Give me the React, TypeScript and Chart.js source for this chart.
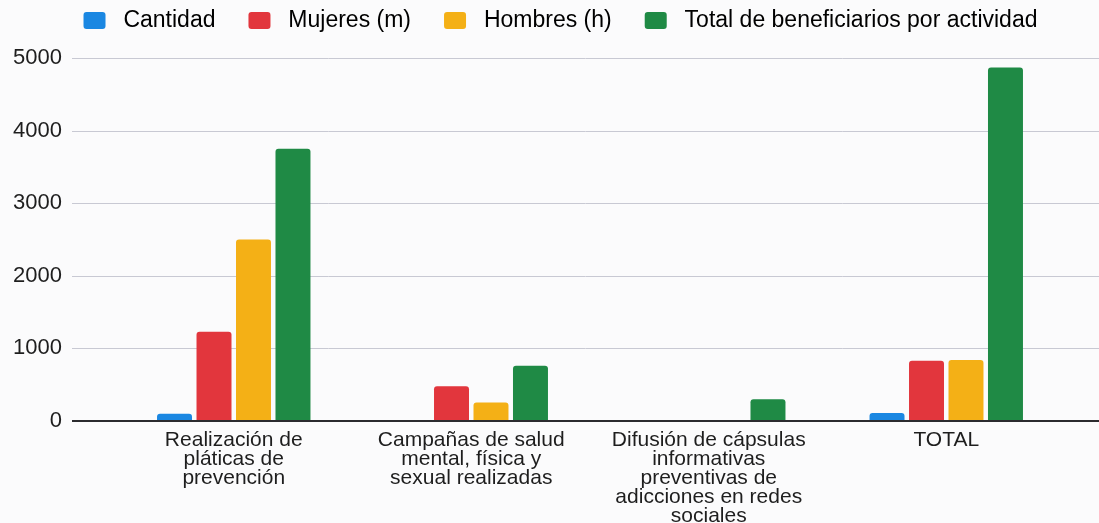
import React, { useEffect, useRef } from "react";
import { Chart, registerables } from "chart.js";

Chart.register(...registerables);

const categories: (string | string[])[] = [
  ["Realización de", "pláticas de", "prevención"],
  ["Campañas de salud", "mental, física y", "sexual realizadas"],
  ["Difusión de cápsulas", "informativas", "preventivas de", "adicciones en redes", "sociales"],
  "TOTAL",
];

const seriesNames = ["Cantidad", "Mujeres (m)", "Hombres (h)", "Total de beneficiarios por actividad"];
const cantidad = [100, 5, 5, 110];
const mujeres = [1230, 480, 0, 830];
const hombres = [2500, 255, 0, 840];
const totalBeneficiarios = [3750, 760, 300, 4870];
const colors = ["#1a87e2", "#e2363d", "#f4b016", "#1f8a45"];
const yTicks = [0, 1000, 2000, 3000, 4000, 5000];

const FONT = "'Liberation Sans', Arial, sans-serif";

const extGrid = {
  id: "extGrid",
  beforeDatasetsDraw(chart: any) {
    const y = chart.scales.y;
    const ctx = chart.ctx;
    const left = chart.chartArea.left - 43;
    ctx.save();
    ctx.strokeStyle = "#c8c9d3";
    ctx.lineWidth = 1;
    y.ticks.forEach((t: any) => {
      if (t.value === 0) return;
      const py = Math.round(y.getPixelForValue(t.value)) + 0.5;
      ctx.beginPath();
      ctx.moveTo(left, py);
      ctx.lineTo(chart.width, py);
      ctx.stroke();
    });
    ctx.restore();
  },
  afterDatasetsDraw(chart: any) {
    const y = chart.scales.y;
    const ctx = chart.ctx;
    const left = chart.chartArea.left - 43;
    const py = y.getPixelForValue(0);
    ctx.save();
    ctx.strokeStyle = "#2b2b2e";
    ctx.lineWidth = 2;
    ctx.beginPath();
    ctx.moveTo(left, py);
    ctx.lineTo(chart.width, py);
    ctx.stroke();
    ctx.restore();
  },
};

const LEGEND_TOP = -24;
const legendPlace = {
  id: "legendPlace",
  afterInit(chart: any) {
    const lg = chart.legend;
    if (!lg) return;
    const orig = lg.fit;
    lg.fit = function () {
      orig.call(this);
      this.height = 82;
    };
  },
  afterLayout(chart: any) {
    const lg = chart.legend;
    if (!lg) return;
    const dy = LEGEND_TOP - lg.top;
    lg.top += dy;
    lg.bottom += dy;
  },
};

export default function App() {
  const ref = useRef<HTMLCanvasElement>(null);
  useEffect(() => {
    if (!ref.current) return;
    const values = [cantidad, mujeres, hombres, totalBeneficiarios];
    const chart = new Chart(ref.current, {
      type: "bar",
      data: {
        labels: categories,
        datasets: seriesNames.map((name, i) => ({
          label: name,
          data: values[i],
          backgroundColor: colors[i],
          borderRadius: 3,
          categoryPercentage: 0.665,
          barPercentage: 0.886,
        })),
      },
      options: {
        animation: false,
        responsive: false,
        layout: { padding: { top: -24, left: 0, right: -22, bottom: 0 } },
        plugins: {
          tooltip: { enabled: false },
          legend: {
            position: "top",
            align: "center",
            labels: {
              boxWidth: 22,
              boxHeight: 17,
              padding: 33,
              color: "#222",
              font: { family: FONT, size: 23 },
              generateLabels: (c: any) =>
                c.data.datasets.map((d: any, i: number) => ({
                  text: " " + d.label,
                  fillStyle: d.backgroundColor,
                  strokeStyle: d.backgroundColor,
                  lineWidth: 0,
                  hidden: false,
                  datasetIndex: i,
                  borderRadius: 3,
                })),
            },
          },
        },
        scales: {
          x: {
            grid: { display: false, drawTicks: false },
            border: { display: false },
            ticks: {
              color: "#1e1e1e",
              font: { family: FONT, size: 21, lineHeight: 0.9 },
              padding: 10,
              maxRotation: 0,
              autoSkip: false,
            },
            afterFit: (s: any) => {
              s.height = 102;
            },
          },
          y: {
            min: 0,
            max: 5000,
            afterBuildTicks: (s: any) => {
              s.ticks = yTicks.map((v) => ({ value: v }));
            },
            grid: { display: false, drawTicks: false },
            border: { display: false },
            ticks: {
              color: "#1e1e1e",
              font: { family: FONT, size: 22 },
              padding: 53,
              callback: (v: any) => String(v),
            },
            afterFit: (s: any) => {
              s.width = 115;
              s.paddingTop = 0;
              s.paddingBottom = 0;
            },
          },
          yr: {
            position: "right",
            display: true,
            grid: { display: false, drawTicks: false },
            border: { display: false },
            ticks: { display: false },
            afterFit: (s: any) => {
              s.width = 56;
              s.paddingTop = 0;
              s.paddingBottom = 0;
            },
          },
        },
      },
      plugins: [extGrid, legendPlace],
    });
    return () => chart.destroy();
  }, []);
  return (
    <div style={{ position: "absolute", left: 0, top: 0, width: 1099, height: 523, background: "#fbfbfc" }}>
      <canvas ref={ref} width={1099} height={523} />
    </div>
  );
}
